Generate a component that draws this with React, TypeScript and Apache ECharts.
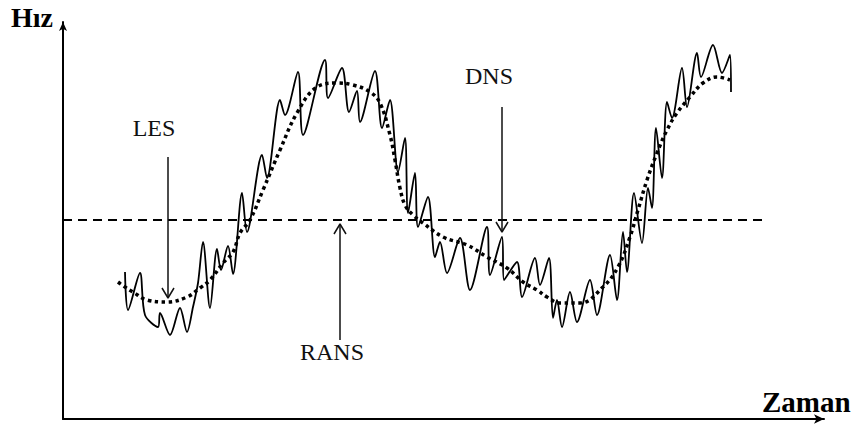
import React, { useEffect, useRef } from "react";
import * as echarts from "echarts";

// Time (t) and velocity (v) readings, schematic units
const dnsT = [62, 65, 77, 82, 95, 97, 107, 117, 124, 130, 135, 140, 147, 154, 158, 165, 170, 179, 184, 199, 204, 217, 222, 235, 240, 262, 265, 279, 286, 294, 297, 312, 319, 327, 335, 342, 345, 352, 355, 365, 372, 377, 384, 397, 407, 424, 427, 439, 441, 454, 459, 472, 477, 486, 490, 494, 499, 507, 514, 527, 534, 547, 554, 560, 564, 571, 579, 585, 589, 593, 599, 604, 609, 619, 624, 634, 638, 650, 659, 667, 668];
const dnsV = [147, 109, 146, 104, 92, 106, 84, 111, 87, 112, 136, 177, 111, 170, 149, 173, 145, 226, 187, 264, 241, 319, 304, 347, 284, 359, 321, 351, 307, 328, 297, 348, 291, 319, 247, 281, 206, 246, 192, 222, 162, 177, 146, 181, 129, 192, 144, 182, 139, 157, 122, 161, 134, 161, 101, 119, 92, 127, 97, 139, 104, 164, 119, 187, 147, 226, 176, 231, 211, 291, 241, 317, 301, 351, 312, 366, 342, 374, 346, 364, 327];

const lesT = [55, 62, 70, 84, 104, 124, 137, 147, 160, 170, 177, 187, 200, 217, 234, 254, 274, 290, 307, 317, 327, 332, 337, 342, 350, 360, 380, 404, 424, 444, 460, 474, 484, 497, 517, 540, 555, 567, 575, 584, 594, 604, 614, 627, 640, 654, 667];
const lesV = [137, 132, 127, 119, 117, 122, 131, 139, 156, 167, 186, 199, 229, 269, 306, 332, 336, 334, 327, 316, 284, 259, 231, 214, 204, 196, 182, 174, 162, 151, 137, 129, 122, 116, 116, 132, 152, 182, 209, 239, 266, 289, 306, 322, 336, 342, 339];

const ransT = [0, 699];
const ransV = [199, 199];

const arrowNames = ["LES", "RANS", "DNS"];
const arrowT = [105, 277, 439];
const arrowFromV = [262, 79, 312];
const arrowToV = [121, 195, 187];
const labelT = [91, 269, 426];
const labelV = [291, 67, 343];

const SERIF = '"Liberation Serif", "Times New Roman", "DejaVu Serif", serif';

export default function App() {
  const ref = useRef<HTMLDivElement>(null);
  useEffect(() => {
    if (!ref.current) return;
    const chart = echarts.init(ref.current, undefined, { renderer: "svg" });
    const arrowSeries: any[] = [];
    arrowNames.forEach((n, i) => {
      const t = arrowT[i];
      const tip = arrowToV[i];
      const dir = Math.sign(arrowToV[i] - arrowFromV[i]);
      arrowSeries.push({
        type: "line",
        name: n + " arrow",
        data: [[t, arrowFromV[i]], [t, tip]],
        showSymbol: false,
        lineStyle: { color: "#111", width: 1.5 },
        silent: true,
      });
      arrowSeries.push({
        type: "line",
        name: n + " head",
        data: [[t - 6, tip - dir * 10], [t, tip], [t + 6, tip - dir * 10]],
        showSymbol: false,
        lineStyle: { color: "#111", width: 1.5 },
        silent: true,
      });
    });
    chart.setOption({
      animation: false,
      backgroundColor: "#fff",
      grid: { left: 63, right: 31, top: 22, bottom: 6 },
      xAxis: {
        type: "value",
        min: 0,
        max: 761,
        axisLine: { show: true, lineStyle: { color: "#000", width: 2 }, symbol: ["none", "arrow"], symbolSize: [7, 10] },
        axisTick: { show: false },
        axisLabel: { show: false },
        splitLine: { show: false },
      },
      yAxis: {
        type: "value",
        min: 0,
        max: 397,
        axisLine: { show: true, lineStyle: { color: "#000", width: 2 }, symbol: ["none", "arrow"], symbolSize: [6, 9] },
        axisTick: { show: false },
        axisLabel: { show: false },
        splitLine: { show: false },
      },
      series: [
        {
          type: "line",
          name: "RANS",
          data: ransT.map((t, i) => [t, ransV[i]]),
          showSymbol: false,
          lineStyle: { color: "#000", width: 2, type: [9, 6] },
        },
        {
          type: "line",
          name: "DNS",
          data: dnsT.map((t, i) => [t, dnsV[i]]),
          showSymbol: false,
          smooth: 0.3,
          lineStyle: { color: "#000", width: 1.8 },
        },
        {
          type: "line",
          name: "LES",
          data: lesT.map((t, i) => [t, lesV[i]]),
          showSymbol: false,
          smooth: 0.4,
          lineStyle: { color: "#000", width: 3.5, type: [3.5, 3.5] },
        },
        ...arrowSeries,
        {
          type: "scatter",
          name: "labels",
          symbolSize: 0,
          silent: true,
          data: arrowNames.map((n, i) => ({ name: n, value: [labelT[i], labelV[i]] })),
          label: {
            show: true,
            position: "inside",
            formatter: "{b}",
            fontFamily: SERIF,
            fontSize: 24,
            color: "#111",
            opacity: 1,
          },
        },
      ],
      graphic: [
        {
          type: "text",
          left: 11,
          top: 3,
          style: { text: "Hız", font: `bold 28px ${SERIF}`, fill: "#000" },
        },
        {
          type: "text",
          left: 762,
          top: 387,
          style: { text: "Zaman", font: `bold 29px ${SERIF}`, fill: "#000" },
        },
      ],
    });
    return () => chart.dispose();
  }, []);
  return (
    <div
      ref={ref}
      style={{ position: "fixed", left: 0, top: 0, width: 855, height: 425, background: "#fff" }}
    />
  );
}
